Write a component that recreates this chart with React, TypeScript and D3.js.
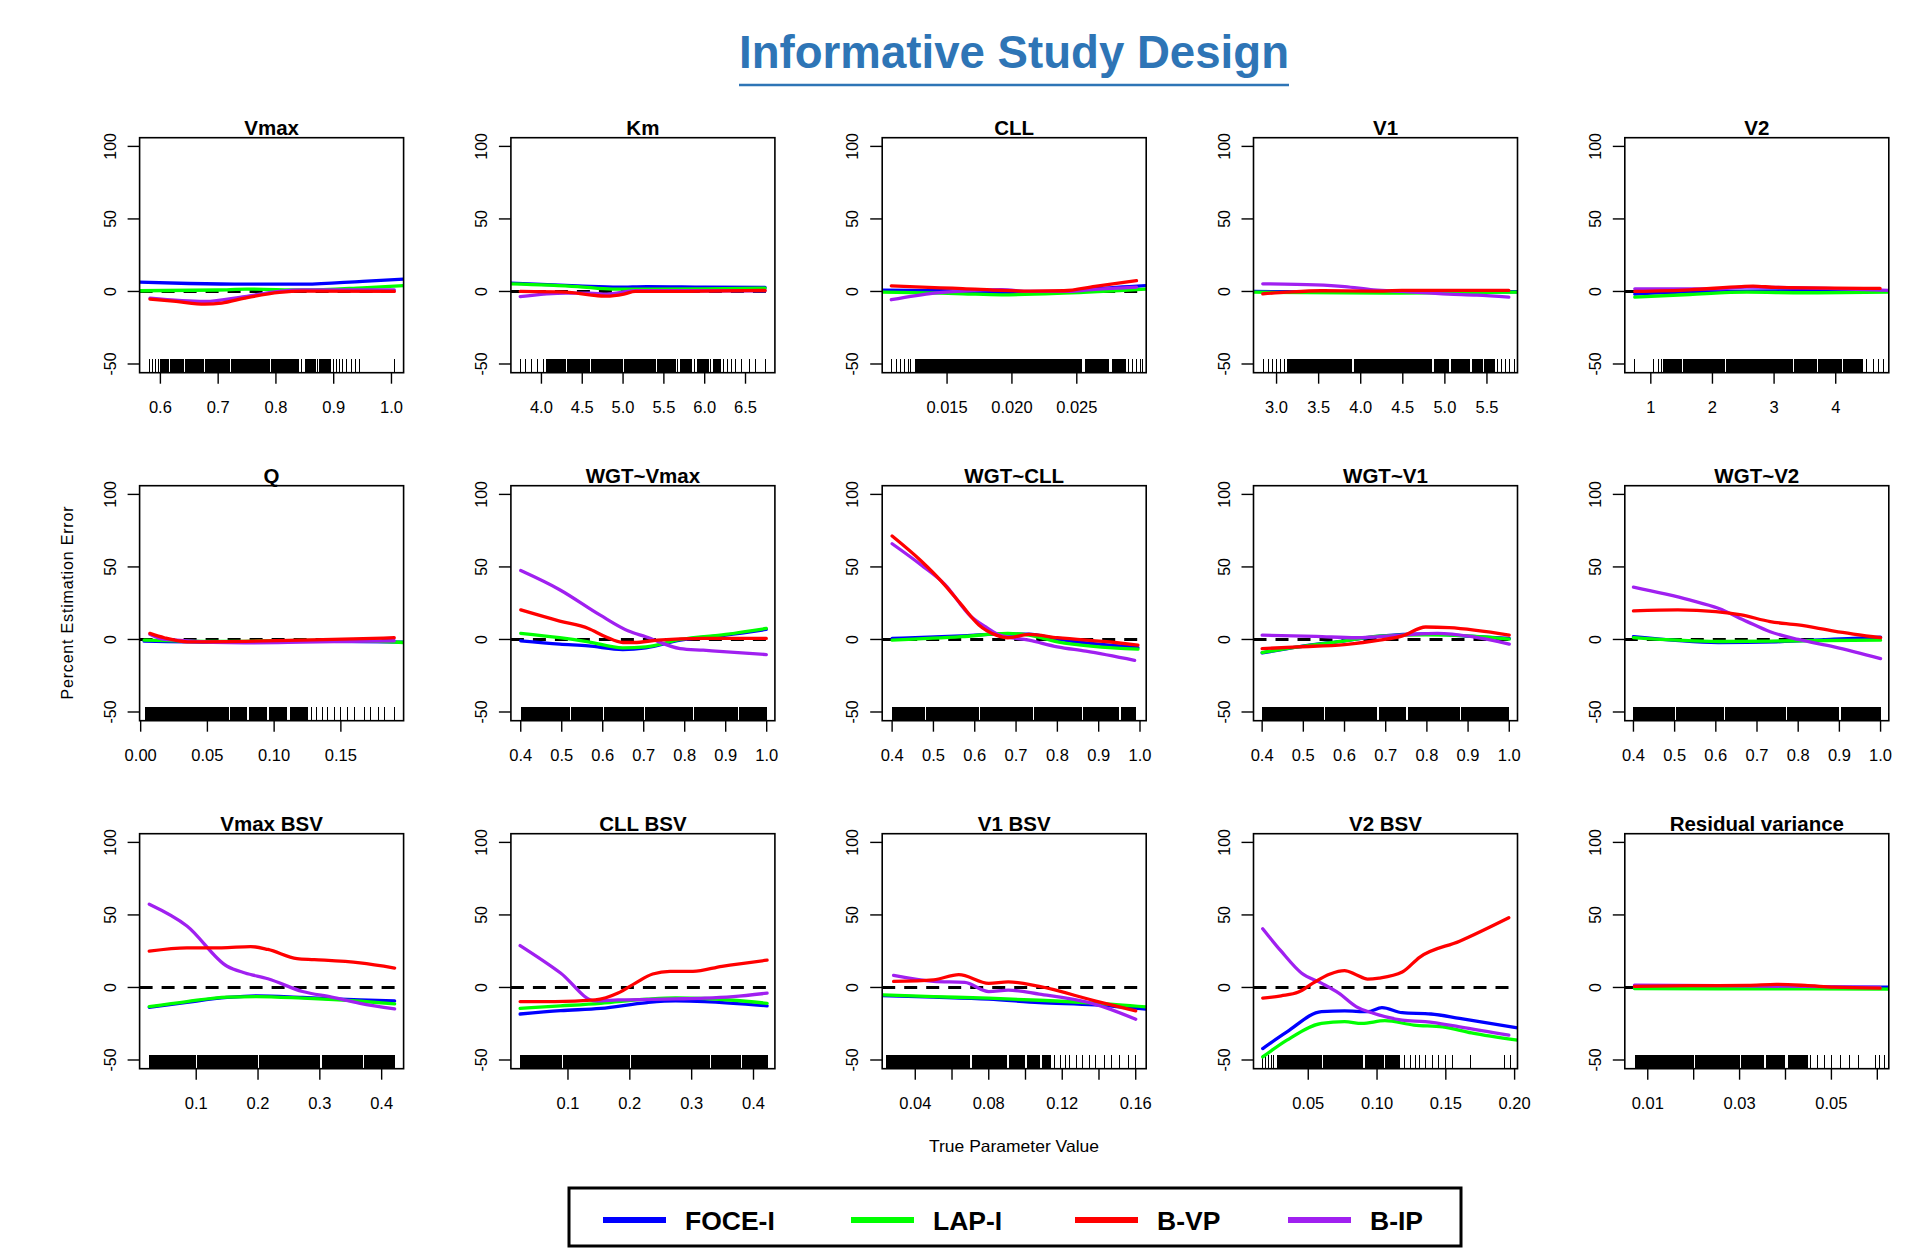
import React, { useEffect } from 'react';
import * as d3 from 'd3';

// panel titles, in reading order (5 columns x 3 rows)
const panelTitles = ['Vmax', 'Km', 'CLL', 'V1', 'V2', 'Q', 'WGT~Vmax', 'WGT~CLL', 'WGT~V1', 'WGT~V2',
  'Vmax BSV', 'CLL BSV', 'V1 BSV', 'V2 BSV', 'Residual variance'];

// x range of each plot box (R's 4% padded range)
const xDomains = [
  [0.564, 1.021], [3.626, 6.86], [0.01, 0.03035], [2.726, 5.863], [0.578, 4.861],
  [-0.0008, 0.197], [0.376, 1.02], [0.376, 1.015], [0.379, 1.02], [0.379, 1.02],
  [0.0084, 0.4355], [0.0077, 0.4346], [0.022, 0.1657], [0.0102, 0.2021], [0.005, 0.0625],
];

const xTicks = [
  [0.6, 0.7, 0.8, 0.9, 1.0], [4.0, 4.5, 5.0, 5.5, 6.0, 6.5], [0.015, 0.02, 0.025], [3.0, 3.5, 4.0, 4.5, 5.0, 5.5], [1, 2, 3, 4],
  [0, 0.05, 0.1, 0.15], [0.4, 0.5, 0.6, 0.7, 0.8, 0.9, 1.0], [0.4, 0.5, 0.6, 0.7, 0.8, 0.9, 1.0], [0.4, 0.5, 0.6, 0.7, 0.8, 0.9, 1.0], [0.4, 0.5, 0.6, 0.7, 0.8, 0.9, 1.0],
  [0.1, 0.2, 0.3, 0.4], [0.1, 0.2, 0.3, 0.4], [0.04, 0.06, 0.08, 0.1, 0.12, 0.14, 0.16], [0.05, 0.1, 0.15, 0.2], [0.01, 0.02, 0.03, 0.04, 0.05, 0.06],
];

const xTickLabels = [
  ['0.6', '0.7', '0.8', '0.9', '1.0'], ['4.0', '4.5', '5.0', '5.5', '6.0', '6.5'], ['0.015', '0.020', '0.025'], ['3.0', '3.5', '4.0', '4.5', '5.0', '5.5'], ['1', '2', '3', '4'],
  ['0.00', '0.05', '0.10', '0.15'], ['0.4', '0.5', '0.6', '0.7', '0.8', '0.9', '1.0'], ['0.4', '0.5', '0.6', '0.7', '0.8', '0.9', '1.0'], ['0.4', '0.5', '0.6', '0.7', '0.8', '0.9', '1.0'], ['0.4', '0.5', '0.6', '0.7', '0.8', '0.9', '1.0'],
  ['0.1', '0.2', '0.3', '0.4'], ['0.1', '0.2', '0.3', '0.4'], ['0.04', '', '0.08', '', '0.12', '', '0.16'], ['0.05', '0.10', '0.15', '0.20'], ['0.01', '', '0.03', '', '0.05', ''],
];

const yTicks = [-50, 0, 50, 100];

// smoothed percent estimation error, one list per panel
const foceI = [
  [[0.564, 6.5], [0.65, 5.5], [0.75, 5], [0.85, 5], [0.95, 7], [1.021, 8.5]],
  [[3.626, 5.7], [4.445, 3.9], [4.94, 3], [5.29, 3.4], [6.0, 3], [6.74, 2.8]],
  [[0.01, 0.9], [0.0145, 0.5], [0.0192, -0.7], [0.024, 0], [0.0264, 1.8], [0.0303, 4]],
  [[2.726, 0], [3.5, -0.3], [4.5, -0.4], [5.863, -0.2]],
  [[0.74, -1.8], [2.0, 0], [3.5, 0.5], [4.861, 0.5]],
  [[0.0026, -1.2], [0.057, -1.9], [0.121, -1.2], [0.197, -1.9]],
  [[0.4, -0.9], [0.495, -3.2], [0.565, -4.4], [0.649, -6.9], [0.705, -5.8], [0.789, -0.5], [0.9, 3], [0.999, 6.9]],
  [[0.4, 0.7], [0.568, 2.5], [0.661, 3.7], [0.731, 3.7], [0.8, 0.2], [0.995, -5.6]],
  [[0.4, -9.3], [0.488, -5.1], [0.6, -0.9], [0.685, 2.3], [0.797, 3.9], [0.91, 2.1], [1.0, 0.7]],
  [[0.4, 1.9], [0.606, -2.1], [0.746, -1.6], [0.887, 0.2], [1.0, 1.6]],
  [[0.024, -13.7], [0.085, -10.2], [0.15, -6.9], [0.197, -5.8], [0.272, -6.9], [0.365, -8.6], [0.421, -9.3]],
  [[0.0226, -18.3], [0.088, -16], [0.153, -14.4], [0.228, -10.4], [0.274, -9.3], [0.321, -9.7], [0.422, -12.7]],
  [[0.0215, -5.6], [0.05, -6.7], [0.08, -8.1], [0.1075, -10.4], [0.1377, -12], [0.1657, -15]],
  [[0.0169, -42.1], [0.0345, -30.6], [0.0596, -16.7], [0.0764, -16.2], [0.0931, -16.7], [0.1036, -13.9], [0.1183, -17.4], [0.1392, -18.3], [0.16, -21.3], [0.2021, -27.8]],
  [[0.0071, -0.2], [0.0317, 0], [0.0625, 0.3]],
];

const lapI = [
  [[0.564, 0.5], [0.7, 1], [0.75, 1.6], [0.85, 1], [0.95, 2.5], [1.021, 4]],
  [[3.626, 5.3], [4.445, 3.4], [4.87, 1.6], [5.29, 1.6], [6.0, 1.8], [6.74, 2.3]],
  [[0.01, -0.5], [0.0145, -1.2], [0.0162, -1.6], [0.0192, -2.3], [0.024, -1.2], [0.0303, 1.6]],
  [[2.726, -0.5], [3.81, -0.9], [4.49, -1.1], [5.863, -0.5]],
  [[0.74, -3.9], [1.63, -2.1], [2.56, -0.5], [3.5, -0.9], [4.861, -0.5]],
  [[0.0026, -0.5], [0.057, -1.4], [0.121, -0.7], [0.164, -0.9], [0.197, -2.1]],
  [[0.4, 4.2], [0.495, 1.2], [0.565, -1.6], [0.649, -5.8], [0.705, -5.1], [0.789, 0], [0.9, 3.5], [0.999, 7.6]],
  [[0.4, -0.5], [0.568, 1.9], [0.68, 4.2], [0.731, 3], [0.8, -1.6], [0.995, -6.7]],
  [[0.4, -9], [0.488, -5.1], [0.6, -0.9], [0.685, 2.3], [0.797, 3.2], [0.91, 2.3], [1.0, 0.2]],
  [[0.4, 1.2], [0.606, -1.4], [0.8, -0.9], [1.0, -0.5]],
  [[0.024, -13.2], [0.085, -9.7], [0.15, -6.7], [0.197, -6.3], [0.272, -7.4], [0.365, -9.5], [0.421, -11.3]],
  [[0.0226, -14.4], [0.088, -12.7], [0.153, -10.9], [0.228, -8.1], [0.274, -7.2], [0.321, -7.6], [0.422, -10.9]],
  [[0.0215, -5.1], [0.05, -6.3], [0.08, -7.4], [0.1075, -8.8], [0.1377, -10.8], [0.1657, -13.4]],
  [[0.0169, -47.9], [0.0345, -36.3], [0.0596, -24.8], [0.0764, -23.6], [0.089, -24.8], [0.1057, -22.9], [0.1267, -25.9], [0.1476, -27.1], [0.1686, -31.3], [0.2021, -36.3]],
  [[0.0071, -0.7], [0.0254, -0.9], [0.0443, -0.9], [0.0625, -1.2]],
];

const bVP = [
  [[0.582, -5.3], [0.627, -6.9], [0.677, -8.7], [0.706, -8], [0.746, -4.6], [0.806, -0.7], [0.846, 0.2], [1.005, 0]],
  [[3.74, 0], [4.3, -0.5], [4.59, -2.3], [4.8, -3.2], [5.01, -1.8], [5.15, 0], [6.0, 0.2], [6.74, 0.7]],
  [[0.0107, 3.9], [0.0145, 2.5], [0.0162, 2], [0.0192, 0.7], [0.0214, 0.3], [0.024, 0.5], [0.0264, 3.5], [0.0296, 7.4]],
  [[2.836, -1.6], [3.12, -0.5], [3.53, 0.5], [4.15, 0.2], [4.49, 0.7], [5.76, 0.7]],
  [[0.74, 0], [1.63, 1.1], [2.47, 3.4], [2.66, 3.7], [3.03, 2.8], [4.72, 2.1]],
  [[0.0069, 4.2], [0.0177, 1.2], [0.035, -1.6], [0.121, -0.5], [0.19, 1.2]],
  [[0.4, 20.4], [0.495, 12.7], [0.565, 7.6], [0.607, 1.9], [0.649, -2.1], [0.677, -2.1], [0.733, -0.5], [0.845, 0.7], [0.999, 0.7]],
  [[0.4, 71.3], [0.471, 53.9], [0.527, 37.7], [0.568, 23.8], [0.61, 10], [0.652, 3], [0.68, 1.2], [0.731, 3.5], [0.8, 1.2], [0.939, -2.1], [0.995, -3.9]],
  [[0.4, -6.3], [0.488, -5.1], [0.6, -3.5], [0.685, -0.5], [0.741, 2.5], [0.797, 8.6], [0.854, 8.1], [1.0, 3]],
  [[0.4, 19.7], [0.508, 20.4], [0.6, 19.2], [0.662, 16.9], [0.732, 12.3], [0.8, 10], [0.887, 5.8], [1.0, 1.2]],
  [[0.024, 25], [0.085, 27.3], [0.141, 27.3], [0.188, 28.2], [0.216, 26.2], [0.263, 19.9], [0.291, 19.2], [0.365, 16.9], [0.421, 13.4]],
  [[0.0226, -9.7], [0.0786, -9.7], [0.144, -8.6], [0.181, -3.9], [0.209, 3], [0.237, 9.3], [0.265, 11.1], [0.302, 11.1], [0.349, 14.6], [0.422, 18.8]],
  [[0.0282, 4.2], [0.05, 5.3], [0.0637, 8.8], [0.08, 2.8], [0.0906, 3.9], [0.1075, 0.7], [0.1377, -9.2], [0.16, -16.1]],
  [[0.0169, -7.4], [0.0303, -5.8], [0.0429, -3.2], [0.0534, 3], [0.0659, 9.3], [0.0764, 11.6], [0.0848, 8.8], [0.0931, 5.8], [0.1015, 6.5], [0.1183, 10.6], [0.1309, 20.8], [0.16, 31.9], [0.1958, 48.1]],
  [[0.0071, 0.7], [0.019, 1.2], [0.0317, 1.4], [0.038, 2.1], [0.0443, 1.4], [0.0506, 0.2], [0.0606, -0.5]],
];

const bIP = [
  [[0.582, -4.6], [0.677, -6.9], [0.746, -3.5], [0.806, 0], [0.846, 1], [1.005, 1]],
  [[3.74, -3.5], [4.3, -1.1], [4.59, -1.1], [4.8, -1.8], [5.15, 0.5], [6.74, 0.5]],
  [[0.0107, -5.7], [0.014, -1.1], [0.0162, 0.3], [0.0192, 1.2], [0.0214, 0], [0.024, 0], [0.0264, 1.5], [0.0296, 3]],
  [[2.836, 5.3], [3.466, 4.6], [3.81, 3.4], [4.15, 1.1], [4.49, 0], [5.04, -1.8], [5.38, -2.5], [5.76, -3.9]],
  [[0.74, 1.8], [2.0, 1.8], [2.56, 3], [4.861, 0.7]],
  [[0.0069, 3.5], [0.0177, 0], [0.078, -2.3], [0.121, -1.9], [0.19, -0.9]],
  [[0.4, 47.5], [0.495, 34.3], [0.593, 16.9], [0.663, 5.8], [0.705, 1.9], [0.789, -6.3], [0.845, -7.4], [0.999, -10.4]],
  [[0.4, 66], [0.471, 51.2], [0.527, 38.2], [0.59, 16], [0.63, 8], [0.661, 3], [0.731, -0.5], [0.8, -5.1], [0.869, -8.1], [0.987, -14.4]],
  [[0.4, 3], [0.531, 2.1], [0.629, 1.2], [0.741, 3], [0.826, 4.2], [0.91, 1.9], [1.0, -3.2]],
  [[0.4, 36.1], [0.536, 27.3], [0.606, 21.5], [0.676, 12.3], [0.732, 5.3], [0.8, 0], [0.887, -5.1], [1.0, -13.2]],
  [[0.024, 57.4], [0.085, 42.4], [0.15, 14.6], [0.179, 10], [0.216, 6], [0.272, -2.8], [0.319, -6.7], [0.365, -10.9], [0.421, -14.8]],
  [[0.0226, 28.9], [0.088, 10], [0.144, -9.3], [0.181, -8.6], [0.274, -7.9], [0.321, -7.4], [0.367, -6.3], [0.422, -3.9]],
  [[0.0282, 8.3], [0.05, 4.2], [0.0669, 3.5], [0.08, -2.8], [0.0906, -1.8], [0.1075, -4.6], [0.1377, -11.5], [0.16, -21.9]],
  [[0.0169, 40.5], [0.0303, 25], [0.045, 10], [0.0596, 3], [0.0722, -3.9], [0.0848, -13.2], [0.0973, -17.8], [0.1183, -22.5], [0.135, -23.6], [0.16, -27.1], [0.1958, -32.9]],
  [[0.0071, 1.6], [0.0254, 1.2], [0.0443, 0.7], [0.0606, 0]],
];

// rug of true parameter values: dense stretches and single ticks
const rugDense = [
  [[0.60, 0.615], [0.617, 0.64], [0.642, 0.675], [0.677, 0.72], [0.722, 0.79], [0.792, 0.84], [0.85, 0.87], [0.875, 0.895]],
  [[4.05, 4.3], [4.31, 4.6], [4.61, 5.0], [5.01, 5.4], [5.41, 5.65], [5.7, 5.85], [5.9, 6.05], [6.1, 6.2]],
  [[0.0125, 0.0254], [0.0256, 0.0275], [0.0277, 0.0288]],
  [[3.13, 3.5], [3.51, 3.9], [3.92, 4.85], [4.87, 5.05], [5.07, 5.3], [5.32, 5.45], [5.47, 5.6]],
  [[1.2, 1.5], [1.52, 2.2], [2.22, 3.3], [3.32, 3.7], [3.72, 4.1], [4.12, 4.45]],
  [[0.003, 0.066], [0.067, 0.08], [0.081, 0.095], [0.096, 0.11], [0.112, 0.125]],
  [[0.4, 0.52], [0.523, 0.6], [0.603, 0.7], [0.703, 0.82], [0.822, 0.93], [0.933, 1.0]],
  [[0.4, 0.48], [0.483, 0.61], [0.613, 0.74], [0.743, 0.86], [0.863, 0.95], [0.953, 0.99]],
  [[0.4, 0.55], [0.553, 0.68], [0.683, 0.75], [0.753, 0.88], [0.883, 1.0]],
  [[0.4, 0.5], [0.503, 0.62], [0.623, 0.77], [0.773, 0.9], [0.903, 1.0]],
  [[0.024, 0.1], [0.102, 0.2], [0.202, 0.3], [0.303, 0.37], [0.372, 0.421]],
  [[0.023, 0.09], [0.092, 0.2], [0.202, 0.33], [0.332, 0.38], [0.382, 0.423]],
  [[0.024, 0.07], [0.071, 0.09], [0.091, 0.1], [0.101, 0.108], [0.109, 0.114]],
  [[0.027, 0.06], [0.061, 0.09], [0.091, 0.105], [0.106, 0.117]],
  [[0.0072, 0.02], [0.0203, 0.03], [0.0303, 0.0354], [0.0358, 0.04], [0.0405, 0.045]],
];

const rugSparse = [
  [0.582, 0.587, 0.592, 0.597, 0.845, 0.872, 0.899, 0.904, 0.91, 0.916, 0.922, 0.93, 0.937, 0.945, 1.005],
  [3.74, 3.8, 3.88, 3.95, 4.02, 5.67, 5.88, 6.07, 6.23, 6.28, 6.33, 6.38, 6.45, 6.55, 6.62, 6.74],
  [0.0107, 0.0111, 0.0114, 0.0117, 0.012, 0.0122, 0.029, 0.0293, 0.0296, 0.0299, 0.0301],
  [2.84, 2.9, 2.95, 3.0, 3.05, 3.1, 5.62, 5.67, 5.72, 5.77, 5.83],
  [0.74, 1.05, 1.12, 1.17, 4.5, 4.62, 4.7, 4.78, 4.86],
  [0.128, 0.132, 0.136, 0.14, 0.145, 0.15, 0.155, 0.16, 0.168, 0.172, 0.178, 0.183, 0.19],
  [],
  [],
  [],
  [],
  [],
  [],
  [0.116, 0.119, 0.122, 0.124, 0.128, 0.131, 0.135, 0.138, 0.143, 0.147, 0.151, 0.156, 0.16],
  [0.017, 0.019, 0.021, 0.023, 0.025, 0.12, 0.124, 0.128, 0.131, 0.135, 0.14, 0.145, 0.15, 0.155, 0.168, 0.193, 0.197],
  [0.0455, 0.047, 0.0485, 0.05, 0.052, 0.054, 0.056, 0.0595, 0.0605, 0.0615],
];

const methods = ['FOCE-I', 'LAP-I', 'B-VP', 'B-IP'];
const methodColors = ['#0000ff', '#00ff00', '#ff0000', '#a020f0'];
const methodSeries = [foceI, lapI, bVP, bIP];
const drawOrder = [0, 1, 3, 2];

const FONT = '"Liberation Sans", Arial, Helvetica, sans-serif';
const BOX_W = 264;
const BOX_H = 235;
const colLeft = (c) => 139.6 + c * 371.3;
const rowTop = (r) => 137.7 + r * 348;

function Panel({ idx }) {
  const left = colLeft(idx % 5);
  const top = rowTop(Math.floor(idx / 5));
  const x = d3.scaleLinear().domain(xDomains[idx]).range([0, BOX_W]);
  const y = d3.scaleLinear().domain([-56, 106]).range([BOX_H, 0]);
  const line = d3.line().x(d => x(d[0])).y(d => y(d[1])).curve(d3.curveMonotoneX);
  const rugTop = BOX_H - 14;

  return (
    <g transform={`translate(${left},${top})`}>
      <defs>
        <clipPath id={`clip-${idx}`}>
          <rect x={0} y={0} width={BOX_W} height={BOX_H} />
        </clipPath>
      </defs>
      <g clipPath={`url(#clip-${idx})`}>
        <line x1={0} x2={BOX_W} y1={y(0)} y2={y(0)} stroke="#000" strokeWidth={3} strokeDasharray="13,9" />
        <g shapeRendering="crispEdges">
          {rugDense[idx].map(([a, b], k) => (
            <rect key={'d' + k} x={x(a)} y={rugTop} width={Math.max(1, x(b) - x(a))} height={BOX_H - rugTop} fill="#000" />
          ))}
          {rugSparse[idx].map((v, k) => (
            <line key={'s' + k} x1={x(v)} x2={x(v)} y1={rugTop} y2={BOX_H} stroke="#000" strokeWidth={1} />
          ))}
        </g>
        {drawOrder.map(m => (
          <path key={m} d={line(methodSeries[m][idx])} fill="none" stroke={methodColors[m]}
            strokeWidth={3.3} strokeLinejoin="round" strokeLinecap="round" />
        ))}
      </g>
      <rect x={0} y={0} width={BOX_W} height={BOX_H} fill="none" stroke="#000" strokeWidth={1.6} />
      {yTicks.map(t => (
        <g key={t}>
          <line x1={-12} x2={0} y1={y(t)} y2={y(t)} stroke="#000" strokeWidth={1.4} />
          <text transform={`translate(-24,${y(t)}) rotate(-90)`} textAnchor="middle"
            fontFamily={FONT} fontSize={16} fill="#000">{t}</text>
        </g>
      ))}
      {xTicks[idx].map((t, k) => (
        <g key={k}>
          <line x1={x(t)} x2={x(t)} y1={BOX_H} y2={BOX_H + 11} stroke="#000" strokeWidth={1.4} />
          {xTickLabels[idx][k] && (
            <text x={x(t)} y={BOX_H + 40} textAnchor="middle" fontFamily={FONT} fontSize={16.5} fill="#000">
              {xTickLabels[idx][k]}
            </text>
          )}
        </g>
      ))}
      <text x={BOX_W / 2} y={-3} textAnchor="middle" fontFamily={FONT} fontSize={20.5} fontWeight="bold" fill="#000">
        {panelTitles[idx]}
      </text>
    </g>
  );
}

const legendX = [603, 851, 1075, 1288];

export default function App() {
  useEffect(() => {
    document.body.style.margin = '0';
    document.body.style.overflow = 'hidden';
  }, []);

  return (
    <svg width={1909} height={1248} style={{ display: 'block', background: '#fff' }}>
      <rect width={1909} height={1248} fill="#fff" />
      <text x={1014} y={68} textAnchor="middle" fontFamily={FONT} fontSize={46} fontWeight="bold" fill="#2e75b6"
        textLength={550} lengthAdjust="spacingAndGlyphs">Informative Study Design</text>
      <line x1={739} x2={1289} y1={85} y2={85} stroke="#2e75b6" strokeWidth={2.5} />

      {panelTitles.map((_, i) => <Panel key={i} idx={i} />)}

      <text transform="translate(73,603) rotate(-90)" textAnchor="middle" fontFamily={FONT} fontSize={16}
        textLength={193} lengthAdjust="spacing" fill="#000">Percent Estimation Error</text>
      <text x={1014} y={1152} textAnchor="middle" fontFamily={FONT} fontSize={16.5} fill="#000"
        textLength={170} lengthAdjust="spacingAndGlyphs">True Parameter Value</text>

      <rect x={569} y={1188} width={892} height={58} fill="#fff" stroke="#000" strokeWidth={3} />
      {methods.map((m, i) => (
        <g key={m}>
          <line x1={legendX[i]} x2={legendX[i] + 63} y1={1220} y2={1220} stroke={methodColors[i]} strokeWidth={6} />
          <text x={legendX[i] + 82} y={1230} fontFamily={FONT} fontSize={26.5} fontWeight="bold" fill="#000">{m}</text>
        </g>
      ))}
    </svg>
  );
}
